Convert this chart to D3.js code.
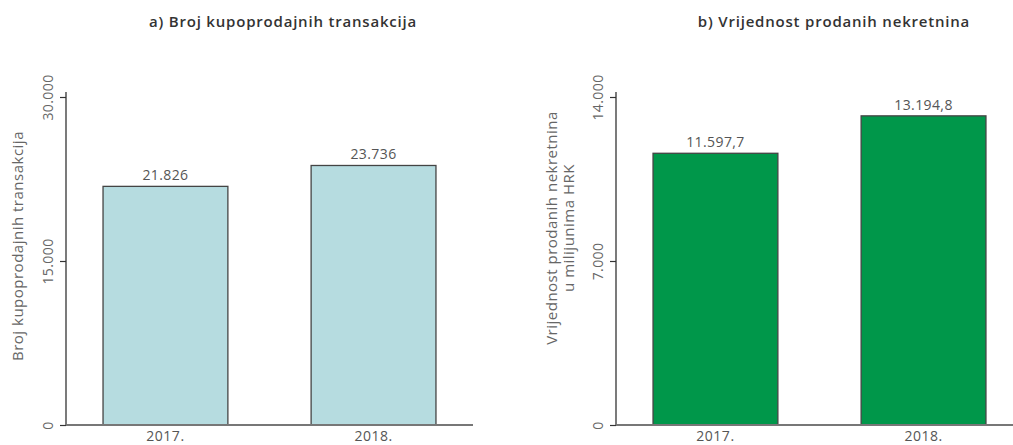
<!DOCTYPE html>
<html>
<head>
<meta charset="utf-8">
<script src="https://cdnjs.cloudflare.com/ajax/libs/d3/7.8.5/d3.min.js"></script>
<style>
  body { margin: 0; background: #fff; }
  svg text { font-family: "Open Sans", sans-serif; }
</style>
</head>
<body>
<svg id="chart" width="1013" height="445"></svg>
<script>
    // podaci
    const years = ["2017.", "2018."];
    const transactions = [21826, 23736];
    const propertyValue = [11597.7, 13194.8];
    const ticksA = [0, 15000, 30000];
    const ticksB = [0, 7000, 14000];

    const fmtInt = d3.formatLocale({ decimal: ",", thousands: ".", grouping: [3], currency: ["", ""] });
    const fmtA = fmtInt.format(",.0f");
    const fmtB = fmtInt.format(",.1f");

    const svg = d3.select("#chart");

    function panel(opt) {
        const g = svg.append("g");
        const x = d3.scaleBand().domain(years).range([opt.x0, opt.x0 + 407])
            .paddingInner(0.4).paddingOuter(0.178);
        const y = d3.scaleLinear().domain([0, opt.max]).range([425, 97]);

        // naslov
        g.append("text").attr("x", opt.titleX).attr("y", 27)
            .attr("text-anchor", "middle").attr("font-size", 15).attr("font-weight", 600)
            .attr("letter-spacing", 0.8).attr("fill", "#333").text(opt.title);

        // stupci
        g.selectAll("rect").data(opt.values).enter().append("rect")
            .attr("x", (d, i) => x(years[i])).attr("width", x.bandwidth())
            .attr("y", d => y(d)).attr("height", d => y(0) - y(d))
            .attr("fill", opt.fill).attr("stroke", "#444").attr("stroke-width", 1.3);

        g.selectAll("text.val").data(opt.values).enter().append("text").attr("class", "val")
            .attr("x", (d, i) => x(years[i]) + x.bandwidth() / 2).attr("y", d => y(d) - 6)
            .attr("text-anchor", "middle").attr("font-size", 14).attr("letter-spacing", 0.4)
            .attr("fill", "#555").text(opt.fmt);

        // os y
        const yAxis = g.append("g").attr("transform", `translate(${opt.x0},0)`)
            .call(d3.axisLeft(y).tickValues(opt.ticks).tickSize(6).tickFormat(fmtA));
        yAxis.select(".domain").attr("d", `M0,${y(opt.max) - 5}V${y(0)}`).attr("stroke", "#333").attr("stroke-width", 1.3);
        yAxis.selectAll(".tick line").attr("stroke", "#333").attr("stroke-width", 1.2);
        yAxis.selectAll(".tick text")
            .attr("transform", "rotate(-90)").attr("x", 0).attr("y", -13)
            .attr("dy", 0).attr("text-anchor", "middle").attr("letter-spacing", 0.4)
            .attr("font-size", 14).attr("fill", "#666").attr("font-family", null);

        // os x
        g.append("line").attr("x1", opt.x0).attr("x2", opt.xEnd).attr("y1", y(0)).attr("y2", y(0))
            .attr("stroke", "#777").attr("stroke-width", 1.8);
        g.selectAll("text.yr").data(years).enter().append("text").attr("class", "yr")
            .attr("x", d => x(d) + x.bandwidth() / 2).attr("y", 441)
            .attr("text-anchor", "middle").attr("font-size", 14).attr("letter-spacing", 0.5)
            .attr("fill", "#555").text(d => d);

        // naziv osi
        const lab = g.append("text").attr("transform", `translate(${opt.labX},${opt.labY}) rotate(-90)`)
            .attr("text-anchor", "middle").attr("font-size", 15).attr("letter-spacing", 0.5)
            .attr("fill", "#666");
        opt.label.forEach((t, i) => {
            lab.append("tspan").attr("x", 0).attr("dy", i === 0 ? 0 : 17).text(t);
        });
    }

    panel({
        x0: 66, xEnd: 473, max: 30000, ticks: ticksA, values: transactions, fill: "#b6dce0",
        fmt: fmtA, title: "a) Broj kupoprodajnih transakcija", titleX: 283,
        label: ["Broj kupoprodajnih transakcija"], labX: 23, labY: 246
    });
    panel({
        x0: 616, xEnd: 1013, max: 14000, ticks: ticksB, values: propertyValue, fill: "#00974a",
        fmt: fmtB, title: "b) Vrijednost prodanih nekretnina", titleX: 834,
        label: ["Vrijednost prodanih nekretnina", "u milijunima HRK"], labX: 557, labY: 228
    });
</script>
</body>
</html>
